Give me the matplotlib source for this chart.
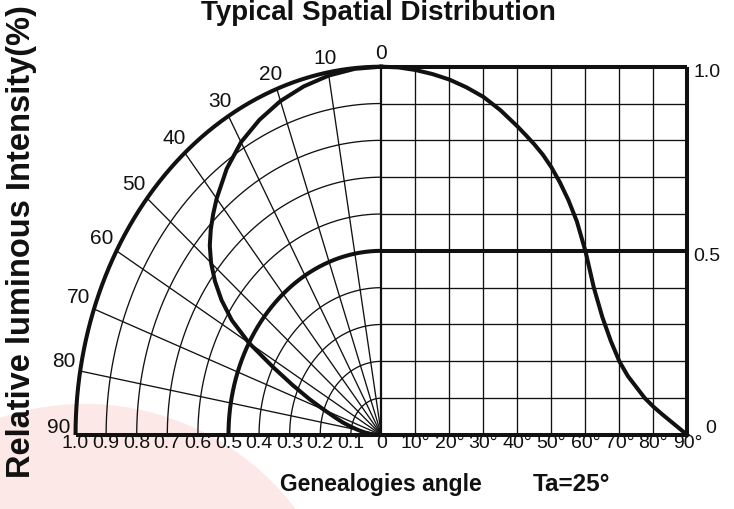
import numpy as np
import matplotlib
matplotlib.use("Agg")
import matplotlib.pyplot as plt
from matplotlib.patches import Ellipse

# relative intensity vs angle (deg)
ANGLES = [0, 5, 10, 15, 20, 25, 30, 35, 40, 42.5, 45, 47.5, 50, 52.5, 55, 57.5, 60,
          62.5, 65, 67.5, 70, 72.5, 75, 77.5, 80, 82.5, 85, 87.5, 90]
INTENSITY = [1.000, 0.998, 0.991, 0.980, 0.965, 0.944, 0.918, 0.882, 0.838, 0.814, 0.789,
             0.761, 0.727, 0.686, 0.638, 0.58, 0.50, 0.40, 0.32, 0.255, 0.20, 0.16, 0.13,
             0.10, 0.077, 0.057, 0.038, 0.019, 0.0]

RADII = [0.1, 0.2, 0.3, 0.4, 0.5, 0.6, 0.7, 0.8, 0.9, 1.0]
RADIAL_LABELS = ["1.0", "0.9", "0.8", "0.7", "0.6", "0.5", "0.4", "0.3", "0.2", "0.1", "0"]
GRID_ANGLES = [0, 10, 20, 30, 40, 50, 60, 70, 80, 90]
ANGLE_LABELS = ["0", "10°", "20°", "30°", "40°", "50°", "60°", "70°", "80°", "90°"]
RIGHT_VALUES = [1.0, 0.5, 0.0]
RIGHT_LABELS = ["1.0", "0.5", "0"]

INK = "#111111"
THICK = 2.9
THIN = 0.95
TICKFONT = ["Liberation Sans", "DejaVu Sans"]
BOLDFONT = ["Liberation Sans", "DejaVu Sans"]

fig = plt.figure(figsize=(7.34, 5.09), dpi=100)
fig.patch.set_facecolor("white")

# faint pink watermark behind the chart
fig.patches.append(Ellipse((84.5 / 734, 1 - 668.2 / 509), 2 * 264.3 / 734, 2 * 264.3 / 509,
                           transform=fig.transFigure, facecolor="#fce8e6", edgecolor="none",
                           zorder=-5))

ax = fig.add_axes([0.1029, 0.1454, 0.8335, 0.7236])
ax.set_zorder(2)
ax.set_xlim(-1, 1)
ax.set_ylim(0, 1)
ax.axis("off")
ax.patch.set_alpha(0)


def line(xs, ys, lw=THIN):
    ax.plot(xs, ys, color=INK, lw=lw, clip_on=False, solid_capstyle="butt")


th = np.radians(np.linspace(0, 90, 181))

# polar grid (left) and rectangular grid (right)
for r in RADII:
    lw = THICK if r in (0.5, 1.0) else THIN
    line(-r * np.sin(th), r * np.cos(th), lw)
    line([0, 1], [r, r], lw)
for a in GRID_ANGLES[1:-1]:
    t = np.radians(a)
    line([0, -np.sin(t)], [0, np.cos(t)])
    line([a / 90, a / 90], [0, 1])
line([0, 0], [0, 1], 1.6)
line([1, 1], [0, 1], THICK)
line([-1, 1], [0, 0], THICK)

# the distribution, polar and cartesian
ang = np.radians(ANGLES)
inten = np.array(INTENSITY)
ax.plot(-inten * np.sin(ang), inten * np.cos(ang), color=INK, lw=THICK, clip_on=False)
ax.plot(np.array(ANGLES) / 90, inten, color=INK, lw=THICK, clip_on=False)

# tick labels
for i, lab in enumerate(RADIAL_LABELS):
    ax.text(-1 + i * 0.1, -0.023, lab, ha="center", va="center", fontsize=14,
            family=TICKFONT, color=INK)
for a, lab in zip(GRID_ANGLES[1:], ANGLE_LABELS[1:]):
    ax.text(a / 90, -0.023, lab, ha="center", va="center", fontsize=14,
            family=TICKFONT, color=INK)
for a in GRID_ANGLES:
    t = np.radians(a)
    ax.text(-1.055 * np.sin(t), 1.035 * np.cos(t) + 0.02 * np.sin(t), str(a),
            ha="center", va="center", fontsize=15, family=TICKFONT, color=INK)
for v, lab in zip(RIGHT_VALUES, RIGHT_LABELS):
    x = 1.02 if v > 0 else 1.06
    y = v - 0.015 if v > 0 else 0.017
    ax.text(x, y, lab, ha="left", va="center", fontsize=14, family=TICKFONT, color=INK)

# titles
fig.text(378 / 734, 1 - 20 / 509, "Typical Spatial Distribution", ha="center", va="baseline",
         fontsize=20, fontweight="bold", family=BOLDFONT, color="#111111")
fig.text(22 / 734, 1 - 242 / 509, "Relative luminous Intensity(%)", ha="center", va="center",
         rotation=90, fontsize=23.5, fontweight="bold", family=BOLDFONT, color="#111111")
fig.text(280 / 734, 1 - 491 / 509, "Genealogies angle", ha="left", va="baseline",
         fontsize=16.5, fontweight="bold", family=BOLDFONT, color="#111111")
fig.text(533 / 734, 1 - 491 / 509, "Ta=25°", ha="left", va="baseline",
         fontsize=17.5, fontweight="bold", family=BOLDFONT, color="#111111")

fig.savefig("out.png", dpi=100)
